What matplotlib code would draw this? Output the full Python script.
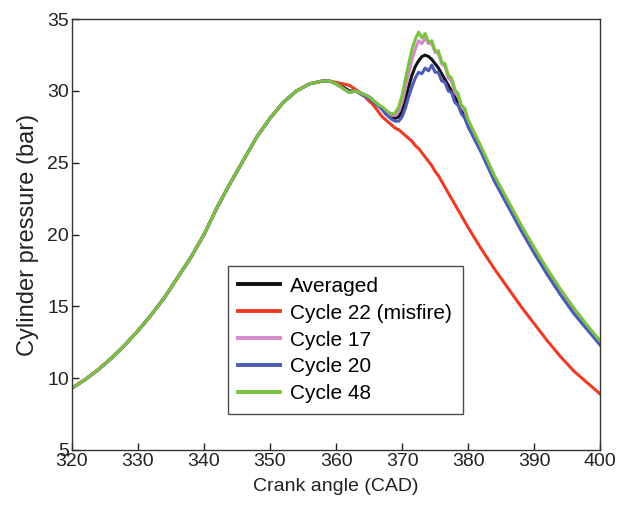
import matplotlib
matplotlib.use("Agg")
import matplotlib.pyplot as plt

plt.rcParams["font.family"] = ["Liberation Sans", "DejaVu Sans"]

# compression stroke, shared by every cycle (320-358 CAD)
compression_angle = [320, 322, 324, 326, 328, 330, 332, 334, 336, 338,
                     340, 342, 344, 346, 348, 350, 352, 354, 356, 358]
compression_pressure = [9.3, 9.9, 10.6, 11.4, 12.3, 13.3, 14.4, 15.6, 17.0, 18.4,
                        20.0, 21.9, 23.6, 25.2, 26.8, 28.1, 29.2, 30.0, 30.5, 30.7]

# combustion / expansion part (359-400 CAD)
tail_angle = [359, 360, 361, 362, 363, 364, 365,
              365.5, 366, 366.5, 367, 367.5, 368, 368.5, 369, 369.5, 370,
              370.5, 371, 371.5, 372, 372.5, 373, 373.5, 374, 374.5, 375,
              375.5, 376, 376.5, 377, 377.5, 378, 378.5, 379, 379.5, 380,
              382, 384, 386, 388, 390, 392, 394, 396, 398, 400]

averaged_tail = [30.7, 30.5, 30.3, 30.0, 30.0, 29.8, 29.6,
                 29.4, 29.2, 29.0, 28.8, 28.6, 28.4, 28.2, 28.1, 28.2, 28.6,
                 29.4, 30.3, 31.1, 31.7, 32.1, 32.4, 32.5, 32.4, 32.2, 31.9,
                 31.6, 31.2, 30.8, 30.4, 30.0, 29.6, 29.2, 28.7, 28.3, 27.8,
                 25.9, 23.9, 22.2, 20.5, 18.9, 17.4, 16.0, 14.7, 13.5, 12.4]

cycle22_tail = [30.7, 30.6, 30.5, 30.4, 30.1, 29.8, 29.3,
                29.1, 28.8, 28.5, 28.2, 28.0, 27.8, 27.6, 27.4, 27.3, 27.1,
                26.9, 26.7, 26.5, 26.2, 26.0, 25.7, 25.4, 25.1, 24.8, 24.4,
                24.1, 23.7, 23.3, 22.9, 22.5, 22.1, 21.7, 21.3, 20.9, 20.5,
                19.0, 17.6, 16.3, 15.0, 13.8, 12.6, 11.5, 10.5, 9.7, 8.9]

cycle17_tail = [30.7, 30.5, 30.2, 29.9, 30.0, 29.8, 29.6,
                29.4, 29.2, 29.0, 28.8, 28.6, 28.4, 28.3, 28.3, 28.6, 29.2,
                30.2, 31.2, 32.2, 32.9, 33.5, 33.3, 33.7, 33.3, 33.3, 32.7,
                32.6, 31.9, 31.7, 30.9, 30.7, 29.9, 29.6, 28.9, 28.6, 27.9,
                26.0, 24.0, 22.3, 20.6, 19.0, 17.5, 16.1, 14.8, 13.6, 12.5]

cycle20_tail = [30.7, 30.5, 30.2, 29.9, 30.0, 29.7, 29.5,
                29.3, 29.1, 28.9, 28.7, 28.4, 28.2, 28.0, 27.9, 27.9, 28.2,
                28.8, 29.6, 30.3, 30.9, 31.3, 31.2, 31.6, 31.4, 31.8, 31.3,
                31.3, 30.7, 30.6, 30.0, 29.9, 29.2, 29.0, 28.4, 28.1, 27.5,
                25.7, 23.7, 22.0, 20.3, 18.7, 17.2, 15.8, 14.5, 13.4, 12.3]

cycle48_tail = [30.7, 30.5, 30.2, 29.9, 30.0, 29.8, 29.6,
                29.4, 29.2, 29.0, 28.9, 28.7, 28.5, 28.4, 28.5, 28.9, 29.7,
                30.8, 31.9, 32.9, 33.6, 34.1, 33.7, 34.0, 33.4, 33.5, 32.8,
                32.8, 32.0, 31.9, 31.1, 30.9, 30.1, 29.8, 29.0, 28.8, 28.0,
                26.1, 24.1, 22.4, 20.7, 19.1, 17.6, 16.2, 14.9, 13.7, 12.6]

series = [
    ("Averaged", averaged_tail, "#111111"),
    ("Cycle 22 (misfire)", cycle22_tail, "#ee3b24"),
    ("Cycle 17", cycle17_tail, "#d688cc"),
    ("Cycle 20", cycle20_tail, "#4a5cb4"),
    ("Cycle 48", cycle48_tail, "#7cc242"),
]


def main() -> None:
    fig = plt.figure(figsize=(6.2, 5.05), dpi=100)
    ax = fig.add_axes([0.116, 0.109, 0.852, 0.853])

    angle = compression_angle + tail_angle
    for label, tail, color in series:
        ax.plot(angle, compression_pressure + tail, color=color, lw=2.2, label=label)

    ax.set_xlim(320, 400)
    ax.set_ylim(5, 35)
    ax.set_xticks(range(320, 401, 10))
    ax.set_yticks(range(5, 36, 5))
    ax.tick_params(direction="in", length=5, width=1, labelsize=14, colors="#222222", pad=2)
    for spine in ax.spines.values():
        spine.set_color("#333333")
        spine.set_linewidth(1.0)

    ax.set_xlabel("Crank angle (CAD)", fontsize=14, labelpad=6, color="#222222")
    ax.set_ylabel("Cylinder pressure (bar)", fontsize=17, labelpad=6, color="#222222")

    leg = ax.legend(loc="lower left", bbox_to_anchor=(0.295, 0.084), fontsize=15,
                    fancybox=False, frameon=True, edgecolor="#222222",
                    handlelength=2.0, handletextpad=0.5, labelspacing=0.38,
                    borderpad=0.5, borderaxespad=0)
    leg.get_frame().set_linewidth(1.0)
    for line in leg.get_lines():
        line.set_linewidth(2.8)

    fig.savefig("out.png", dpi=100)
    plt.close(fig)


if __name__ == "__main__":
    main()
